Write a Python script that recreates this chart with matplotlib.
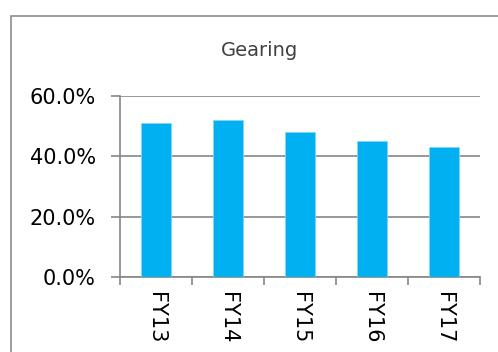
import matplotlib
matplotlib.use("Agg")
import matplotlib.pyplot as plt
from matplotlib.patches import Rectangle
from matplotlib.ticker import FixedLocator, PercentFormatter

categories = ["FY13", "FY14", "FY15", "FY16", "FY17"]
gearing = [51.0, 51.9, 48.2, 45.2, 43.0]
yticks = [0, 20, 40, 60]

W, H = 498, 352
fig = plt.figure(figsize=(W / 100, H / 100), dpi=100)
fig.patch.set_facecolor("white")

# outer chart border
fig.patches.append(Rectangle((11 / W, -0.1), 1.2, 1 - 16 / H + 0.1,
                             transform=fig.transFigure, fill=False,
                             edgecolor="#8c8c8c", linewidth=1.2))

ax = fig.add_axes([120 / W, 1 - 277 / H, 360 / W, 181 / H])
x = list(range(len(categories)))
ax.bar(x, gearing, width=0.42, color="#00B0F0", edgecolor="#7fd6f7",
       linewidth=0.6, zorder=3)

ax.set_xlim(-0.5, len(categories) - 0.5)
ax.set_ylim(0, 60)
ax.set_yticks(yticks)
ax.yaxis.set_major_formatter(PercentFormatter(decimals=1))

gray = "#868686"
ax.grid(axis="y", color=gray, linewidth=1.2, zorder=0)
ax.set_axisbelow(True)
for s in ["top", "right"]:
    ax.spines[s].set_visible(False)
for s in ["left", "bottom"]:
    ax.spines[s].set_color(gray)
    ax.spines[s].set_linewidth(1.2)

font = dict(family="DejaVu Sans", size=15, color="black")
ax.set_xticks(x)
ax.set_xticklabels(categories, rotation=-90, va="top", ha="center", **font)
ax.xaxis.set_minor_locator(FixedLocator([i - 0.5 for i in range(len(categories) + 1)]))
ax.tick_params(axis="x", which="major", length=0, pad=11)
ax.tick_params(axis="x", which="minor", length=6, width=1.2, color=gray)
ax.tick_params(axis="y", length=6.5, width=1.2, color=gray, pad=11)
for lab in ax.get_yticklabels():
    lab.set_fontfamily("DejaVu Sans")
    lab.set_fontsize(15)
    lab.set_color("black")

fig.text(259 / W, 1 - 51 / H, "Gearing", ha="center", va="center",
         fontsize=14, color="#404040", family="DejaVu Sans")

fig.savefig("out.png", dpi=100)
